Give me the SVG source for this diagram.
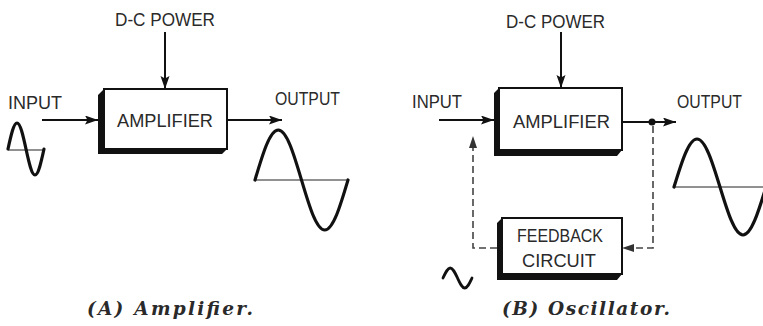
<svg xmlns="http://www.w3.org/2000/svg" width="763" height="326" viewBox="0 0 763 326">
<defs>
<style>
.lbl{font-family:"Liberation Sans",Arial,sans-serif;font-size:18px;fill:#2a2a2a}
.cap{font-family:"DejaVu Serif","Liberation Serif",serif;font-size:18.5px;font-weight:bold;font-style:italic;fill:#2a2a2a}
.box{fill:#fff;stroke:#111;stroke-width:2}
.shadow{fill:#111}
.wire{fill:none;stroke:#111;stroke-width:2}
.dash{fill:none;stroke:#444;stroke-width:1.6;stroke-dasharray:7 4}
.wave{fill:none;stroke:#111;stroke-width:3.2;stroke-linecap:round}
.axis{stroke:#222;stroke-width:1}
</style>
<marker id="arr" markerUnits="userSpaceOnUse" markerWidth="14" markerHeight="10" refX="13" refY="4.5" orient="auto">
<path d="M0,0 L13,4.5 L0,9 L2.5,4.5 z" fill="#111"/>
</marker>
</defs>

<g id="connectors">
<line class="wire" x1="165" y1="32" x2="165" y2="89" marker-end="url(#arr)"/>
<line class="wire" x1="42" y1="120" x2="98" y2="120" marker-end="url(#arr)"/>
<line class="wire" x1="227" y1="120" x2="282" y2="120" marker-end="url(#arr)"/>
<line class="wire" x1="561" y1="32" x2="561" y2="88" marker-end="url(#arr)"/>
<line class="wire" x1="439" y1="120" x2="494" y2="120" marker-end="url(#arr)"/>
<line class="wire" x1="622" y1="122" x2="676" y2="122" marker-end="url(#arr)"/>
<circle cx="652" cy="122" r="3.5" fill="#111"/>
<polyline class="dash" points="653,126 653,248 633,248"/>
<path d="M634,244 L622,248 L634,252 z" fill="#333"/>
<polyline class="dash" points="497,248 473,248 473,148"/>
<path d="M469,148 L473,136 L477,148 z" fill="#333"/>
</g>

<g id="amp-a">
<polygon class="shadow" points="104,89 98,95 98,154 222,154 227,149 104,149"/>
<rect class="box" x="104" y="89" width="123" height="60"/>
<text class="lbl" x="117" y="127" textLength="96" lengthAdjust="spacingAndGlyphs">AMPLIFIER</text>
</g>
<g id="label-a">
<text class="lbl" x="115" y="26" textLength="100" lengthAdjust="spacingAndGlyphs">D-C POWER</text>
<text class="lbl" x="8" y="109" textLength="54" lengthAdjust="spacingAndGlyphs">INPUT</text>
<text class="lbl" x="275" y="105" textLength="65" lengthAdjust="spacingAndGlyphs">OUTPUT</text>
</g>
<g id="wave-in-a">
<line class="axis" x1="8" y1="150" x2="45" y2="150"/>
<path class="wave" d="M8,149 C10.9,135.7 13.7,123 17,123 C20.3,123 23.1,135.7 26,149 C28.9,162.3 31.7,175 35,175 C38.3,175 41.1,162.3 44,149"/>
</g>
<g id="wave-out-a">
<line class="axis" x1="255" y1="180" x2="348" y2="180"/>
<path class="wave" d="M255,180 C262.6,154.4 269.8,130 278.25,130 C286.7,130 293.9,154.4 301.5,180 C309.1,205.6 316.3,230 324.75,230 C333.2,230 340.4,205.6 348,180"/>
</g>
<g id="caption-a">
<text class="cap" x="87" y="315" textLength="166">(A)  Amplifier.</text>
</g>

<g id="amp-b">
<polygon class="shadow" points="499,88 494,93 494,156 617,156 622,150 499,150"/>
<rect class="box" x="499" y="88" width="123" height="62"/>
<text class="lbl" x="513" y="128" textLength="97" lengthAdjust="spacingAndGlyphs">AMPLIFIER</text>
</g>
<g id="feedback-b">
<polygon class="shadow" points="502,218 497,223 497,280 617,280 622,274 502,274"/>
<rect class="box" x="502" y="218" width="120" height="56"/>
<text class="lbl" x="517" y="242" textLength="86" lengthAdjust="spacingAndGlyphs" style="font-size:19px">FEEDBACK</text>
<text class="lbl" x="522" y="267" textLength="74" lengthAdjust="spacingAndGlyphs" style="font-size:19px">CIRCUIT</text>
</g>
<g id="label-b">
<text class="lbl" x="506" y="28" textLength="99" lengthAdjust="spacingAndGlyphs">D-C POWER</text>
<text class="lbl" x="412" y="108" textLength="50" lengthAdjust="spacingAndGlyphs">INPUT</text>
<text class="lbl" x="677" y="108" textLength="65" lengthAdjust="spacingAndGlyphs">OUTPUT</text>
</g>
<g id="wave-small-b">
<path class="wave" style="stroke-width:2.8" d="M443,278 C445.4,272.9 447.6,268 450.25,268 C452.9,268 455.1,272.9 457.5,278 C459.9,283.1 462.1,288 464.75,288 C467.4,288 469.6,283.1 472,278"/>
</g>
<g id="wave-out-b">
<line class="axis" x1="674" y1="187" x2="763" y2="187"/>
<path class="wave" d="M674,187 C681.5,162.4 688.7,139 697,139 C705.3,139 712.5,162.4 720,187 C727.5,211.6 734.7,235 743,235 C751.3,235 758.5,211.6 766,187"/>
</g>
<g id="caption-b">
<text class="cap" x="502" y="315" textLength="168">(B)  Oscillator.</text>
</g>
</svg>
